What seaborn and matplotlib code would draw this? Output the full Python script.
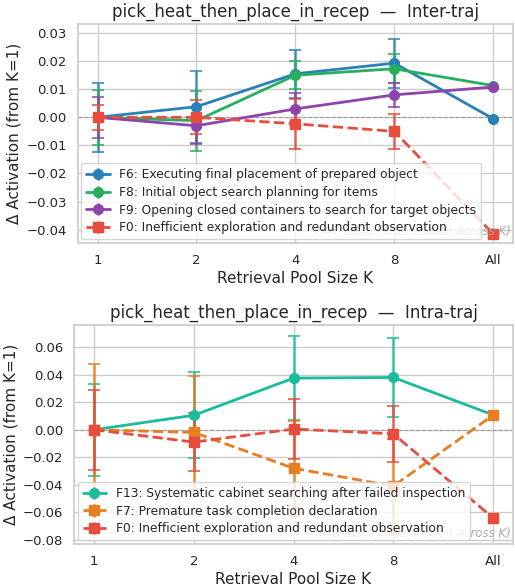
import numpy as np
import matplotlib
matplotlib.use("Agg")
import matplotlib.pyplot as plt
import seaborn as sns

sns.set_theme(style="whitegrid")
plt.rcParams['font.family'] = ['DejaVu Sans']

# Datos
k_labels = ["1", "2", "4", "8", "All"]
titulo_tarea = "pick_heat_then_place_in_recep"

# Inter-traj
inter_nombres = [
    "F6: Executing final placement of prepared object",
    "F8: Initial object search planning for items",
    "F9: Opening closed containers to search for target objects",
    "F0: Inefficient exploration and redundant observation",
]
inter_f6 = [0.0, 0.0038, 0.0155, 0.0193, -0.0005]
inter_f6_err = [0.0123, 0.0128, 0.0085, 0.0087, 0.0]
inter_f8 = [0.0, -0.0012, 0.0150, 0.0173, 0.0113]
inter_f8_err = [0.0098, 0.0107, 0.0050, 0.0052, 0.0]
inter_f9 = [0.0, -0.0030, 0.0030, 0.0080, 0.0108]
inter_f9_err = [0.0073, 0.0065, 0.0055, 0.0042, 0.0]
inter_f0 = [0.0, 0.0, -0.0023, -0.0050, -0.0415]
inter_f0_err = [0.0045, 0.0060, 0.0090, 0.0063, 0.0]

# Intra-traj
intra_nombres = [
    "F13: Systematic cabinet searching after failed inspection",
    "F7: Premature task completion declaration",
    "F0: Inefficient exploration and redundant observation",
]
intra_f13 = [0.0, 0.0105, 0.0375, 0.0380, 0.0108]
intra_f13_err = [0.0335, 0.0313, 0.0305, 0.0285, 0.0]
intra_f7 = [0.0, -0.0020, -0.0280, -0.0410, 0.0105]
intra_f7_err = [0.0480, 0.0410, 0.0345, 0.0340, 0.0]
intra_f0 = [0.0, -0.0090, 0.0005, -0.0030, -0.0640]
intra_f0_err = [0.0290, 0.0210, 0.0215, 0.0205, 0.0]

colores_inter = ["#2a80b9", "#27ae60", "#8e44ad", "#e74c3c"]
colores_intra = ["#1abc9c", "#e67e22", "#e74c3c"]

fig = plt.figure(figsize=(5.15, 5.88), dpi=100)
ax1 = fig.add_axes([0.151, 0.587, 0.845, 0.372])
ax2 = fig.add_axes([0.144, 0.075, 0.852, 0.372])

x = np.arange(len(k_labels))


def dibujar(ax, series, errores, nombres, colores, estilos, marcadores, titulo, nota):
    for y, e, n, c, ls, m in zip(series, errores, nombres, colores, estilos, marcadores):
        err = np.array(e)
        ax.errorbar(x[:4], np.array(y)[:4], yerr=err[:4], fmt='none', ecolor=c,
                    elinewidth=1.8, capsize=4, capthick=1.3, alpha=0.85, zorder=2)
        ax.errorbar(x, y, yerr=None, color=c, ls=ls, lw=2, marker=m, ms=7,
                    label=n, zorder=3)
    ax.axhline(0, color='gray', lw=0.8, ls='--', alpha=0.6, zorder=1)
    ax.set_xticks(x)
    ax.set_xticklabels(k_labels)
    ax.set_xlim(-0.2, 4.2)
    ax.set_title(titulo, fontsize=12, pad=5)
    ax.set_xlabel("Retrieval Pool Size K", fontsize=11, labelpad=3)
    ax.set_ylabel("Δ Activation (from K=1)", fontsize=11, labelpad=3)
    ax.tick_params(labelsize=9.5, pad=2)
    # leyenda con simbolos de barra de error
    handles = []
    for c, ls, m in zip(colores, estilos, marcadores):
        h = ax.errorbar([], [], yerr=[], color=c, ls=ls, lw=2, marker=m, ms=7,
                        capsize=4, elinewidth=1.8)
        handles.append(h)
    leg = ax.legend(handles, nombres, loc='lower left', fontsize=8.8, framealpha=0.8,
                    handlelength=1.9, borderaxespad=0.3, labelspacing=0.38)
    leg.set_zorder(6)
    # nota queda por debajo de la leyenda, como en el original
    ax.text(0.995, 0.02, nota, transform=ax.transAxes, ha='right', va='bottom',
            fontsize=8.5, style='italic', color='#aaaaaa', zorder=4)


dibujar(ax1,
        [inter_f6, inter_f8, inter_f9, inter_f0],
        [inter_f6_err, inter_f8_err, inter_f9_err, inter_f0_err],
        inter_nombres, colores_inter,
        ['-', '-', '-', '--'], ['o', 'o', 'o', 's'],
        f"{titulo_tarea}  —  Inter-traj",
        "n=7 tasks (intersection across K)")

dibujar(ax2,
        [intra_f13, intra_f7, intra_f0],
        [intra_f13_err, intra_f7_err, intra_f0_err],
        intra_nombres, colores_intra,
        ['-', '--', '--'], ['o', 's', 's'],
        f"{titulo_tarea}  —  Intra-traj",
        "n=8 tasks (intersection across K)")

ax1.set_ylim(-0.0447, 0.0332)
ax1.set_yticks([-0.04, -0.03, -0.02, -0.01, 0.0, 0.01, 0.02, 0.03])
ax1.set_yticklabels([f"{v:.2f}".replace("-", "\u2212") for v in ax1.get_yticks()])
ax2.set_ylim(-0.083, 0.076)
ax2.set_yticks([-0.08, -0.06, -0.04, -0.02, 0.0, 0.02, 0.04, 0.06])
ax2.set_yticklabels([f"{v:.2f}".replace("-", "\u2212") for v in ax2.get_yticks()])

fig.savefig("out.png", dpi=100)
